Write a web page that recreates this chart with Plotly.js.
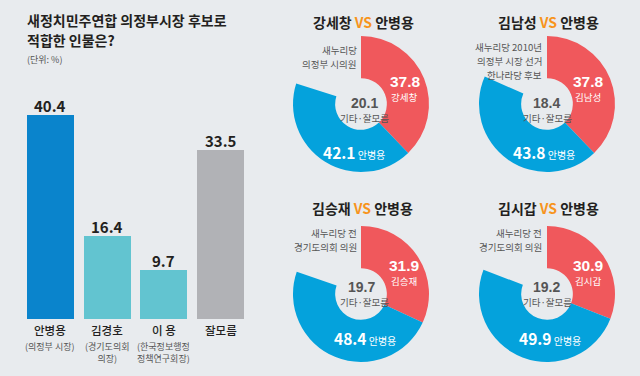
<!DOCTYPE html>
<html>
<head>
<meta charset="utf-8">
<script src="https://cdn.plot.ly/plotly-3.0.1.min.js"></script>
<style>
  html, body { margin: 0; padding: 0; background: #e8ebee; }
  #chart { width: 640px; height: 376px; }
</style>
</head>
<body>
<div id="chart"></div>
<script>
// ---- Data: bar chart ----
const chartTitleLines = ['새정치민주연합 의정부시장 후보로', '적합한 인물은?'];
const barCategories = ['안병용', '김경호', '이 용', '잘모름'];
const barValues = [40.4, 16.4, 9.7, 33.5];
const barSubLabels = ['(의정부 시장)', '(경기도의회<br>의장)', '(한국정보행정<br>정책연구회장)', ''];

// ---- Data: head-to-head donuts ----
const challengerNames = ['강세창', '김남성', '김승재', '김시갑'];
const challengerValues = [37.8, 37.8, 31.9, 30.9];
const ahnName = '안병용';
const ahnValues = [42.1, 43.8, 48.4, 49.9];
const otherLabel = '기타·잘모름';
const otherValues = [20.1, 18.4, 19.7, 19.2];
const challengerNotes = [
  ['새누리당', '의정부 시의원'],
  ['새누리당 2010년', '의정부 시장 선거', '한나라당 후보'],
  ['새누리당 전', '경기도의회 의원'],
  ['새누리당 전', '경기도의회 의원']
];

// ---- Styles ----
const W = 640, H = 376;
const FONT = '"Noto Sans CJK KR", "Noto Sans", sans-serif';
const NUMFONT = '"Liberation Sans", Arial, sans-serif';
const BG = '#e8ebee';
const barColors = ['#0a84cc', '#62c4d0', '#62c4d0', '#b1b2b6'];
const RED = '#f0585c', BLUE = '#04a2dc', ORANGE = '#f7941d', DARK = '#231f20', GRAY = '#555555';
const px = (x) => x / W;
const py = (y) => 1 - y / H;
const NOTE_STEP = 14;
const TITLE_Y = [19.5, 40];

// donut geometry (pixel centres, radius) and text placements
const donuts = [
  {cx: 361, cy: 104, r: 68, title: [363, 22], note: [358, 49.5],
   redNum: [405, 81], redName: [404, 96.8], ctrNum: [364, 103], ctrLab: [364, 117.8], blue: [322, 152]},
  {cx: 547, cy: 104, r: 68, title: [548, 22], note: [543, 47],
   redNum: [588, 81.5], redName: [588, 97.3], ctrNum: [546, 103.5], ctrLab: [547, 118.3], blue: [512, 152]},
  {cx: 361, cy: 294, r: 68, title: [362, 208], note: [358, 233],
   redNum: [404.5, 265], redName: [404, 280.8], ctrNum: [361, 287], ctrLab: [364.5, 301.8], blue: [333, 338]},
  {cx: 547, cy: 294, r: 68, title: [548, 208], note: [543, 233],
   redNum: [588, 265], redName: [588, 280.8], ctrNum: [546, 287], ctrLab: [547, 301.8], blue: [518, 338]}
];

const traces = [];
traces.push({
  type: 'bar',
  x: barCategories,
  y: barValues,
  marker: {color: barColors, line: {width: 0}},
  width: 0.83,
  hoverinfo: 'skip',
  xaxis: 'x', yaxis: 'y'
});

const annotations = [];
const ann = (o) => annotations.push(Object.assign({xref: 'paper', yref: 'paper', showarrow: false, borderpad: 0}, o));
const big = (t, s) => '<span style="font-size:' + s + 'px;font-weight:700">' + t + '</span>';

donuts.forEach((d, i) => {
  traces.push({
    type: 'pie',
    values: [challengerValues[i], ahnValues[i], otherValues[i]],
    labels: [challengerNames[i], ahnName, otherLabel],
    sort: false,
    direction: 'clockwise',
    rotation: 0,
    hole: 0.38,
    textinfo: 'none',
    hoverinfo: 'skip',
    showlegend: false,
    marker: {colors: [RED, BLUE, 'rgba(0,0,0,0)'], line: {width: 0}},
    domain: {x: [px(d.cx - d.r), px(d.cx + d.r)], y: [py(d.cy + d.r), py(d.cy - d.r)]}
  });
  ann({x: px(d.title[0]), y: py(d.title[1]), xanchor: 'center', yanchor: 'middle',
       text: challengerNames[i] + ' <span style="color:' + ORANGE + '">VS</span> ' + ahnName,
       font: {family: FONT, size: 14, color: DARK, weight: 700}});
  challengerNotes[i].forEach((line, k) => {
    ann({x: px(d.note[0]), y: py(d.note[1] + k * NOTE_STEP), xanchor: 'right', yanchor: 'middle', align: 'right',
         text: line, font: {family: FONT, size: 9.5, color: GRAY}});
  });
  ann({x: px(d.redNum[0]), y: py(d.redNum[1]), xanchor: 'center', yanchor: 'middle',
       text: challengerValues[i].toFixed(1), font: {family: NUMFONT, size: 15.5, color: '#ffffff', weight: 700}});
  ann({x: px(d.redName[0]), y: py(d.redName[1]), xanchor: 'center', yanchor: 'middle',
       text: challengerNames[i], font: {family: FONT, size: 9.5, color: '#ffffff'}});
  ann({x: px(d.ctrNum[0]), y: py(d.ctrNum[1]), xanchor: 'center', yanchor: 'middle',
       text: otherValues[i].toFixed(1), font: {family: NUMFONT, size: 14, color: GRAY, weight: 700}});
  ann({x: px(d.ctrLab[0]), y: py(d.ctrLab[1]), xanchor: 'center', yanchor: 'middle',
       text: otherLabel, font: {family: FONT, size: 9.5, color: GRAY}});
  ann({x: px(d.blue[0]), y: py(d.blue[1]), xanchor: 'left', yanchor: 'middle',
       text: big(ahnValues[i].toFixed(1), 15.5) + ' ' + ahnName,
       font: {family: FONT, size: 10, color: '#ffffff'}});
});

// bar chart title & unit
chartTitleLines.forEach((line, k) => {
  ann({x: px(26), y: py(TITLE_Y[k]), xanchor: 'left', yanchor: 'middle', align: 'left',
       text: line, font: {family: FONT, size: 14, color: DARK, weight: 700}});
});
ann({x: px(26), y: py(60), xanchor: 'left', yanchor: 'middle',
     text: '(단위: %)', font: {family: FONT, size: 9, color: GRAY}});

// bar value labels and category labels
barCategories.forEach((c, i) => {
  annotations.push({xref: 'x', yref: 'y', x: c, y: barValues[i], xanchor: 'center', yanchor: 'bottom', yshift: -2,
    showarrow: false, borderpad: 0, text: barValues[i].toFixed(1), font: {family: FONT, size: 15, color: DARK, weight: 700}});
  annotations.push({xref: 'x', yref: 'paper', x: c, y: py(330), xanchor: 'center', yanchor: 'middle',
    showarrow: false, text: c, font: {family: FONT, size: 11.5, color: DARK, weight: 500}});
  if (barSubLabels[i]) {
    annotations.push({xref: 'x', yref: 'paper', x: c, y: py(338), xanchor: 'center', yanchor: 'top',
      showarrow: false, align: 'center', text: barSubLabels[i], font: {family: FONT, size: 9, color: GRAY}});
  }
});

const layout = {
  width: W, height: H,
  margin: {l: 0, r: 0, t: 0, b: 0, pad: 0},
  paper_bgcolor: BG, plot_bgcolor: BG,
  showlegend: false,
  bargap: 0,
  xaxis: {domain: [px(22.15), px(248.85)], range: [-0.5, 3.5], type: 'category',
          showticklabels: false, showgrid: false, zeroline: false, showline: false, ticks: '', fixedrange: true},
  yaxis: {domain: [py(319), py(66.5)], range: [0, 50], showticklabels: false, showgrid: false,
          zeroline: false, showline: false, ticks: '', fixedrange: true},
  annotations: annotations
};

Plotly.newPlot('chart', traces, layout, {displayModeBar: false, staticPlot: true});
</script>
</body>
</html>
